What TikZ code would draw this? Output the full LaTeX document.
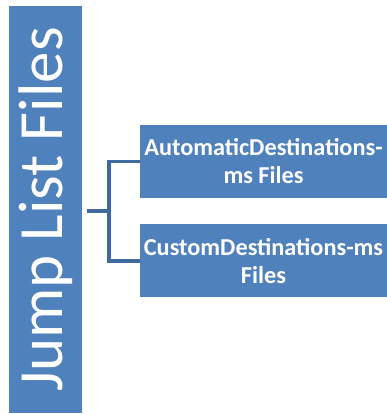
\documentclass[tikz,border=0pt]{standalone}
\usepackage{fontspec}
\setmainfont{Carlito}
\usepackage{graphicx}
\usepackage{tikz}
\usetikzlibrary{positioning}
\usetikzlibrary{calc}
\definecolor{boxblue}{HTML}{4F81BD}
\definecolor{linkblue}{HTML}{3F6A9E}

\begin{document}
\begin{tikzpicture}[x=1pt, y=-1pt,
        		mainbox/.style={fill=boxblue, draw=none, inner sep=0pt, text=white},
        		subbox/.style={fill=boxblue, draw=none, inner sep=0pt, minimum width=247pt, minimum height=73pt, text=white, font=\bfseries\fontsize{24.3}{28}\selectfont},
        		branch/.style={draw=linkblue, line width=3.4pt},
        		every text node part/.style={align=center}]
        		\useasboundingbox (0, 0) rectangle (387, 414);
        		\node[mainbox, minimum width=73pt, minimum height=407pt, font=\fontsize{63}{63}\selectfont](files) at (45.5, 209.5) {\rotatebox{90}{Jump List Files}};
        		
        		\node[subbox](autodest) at (263.5, 161.5) {AutomaticDestinations-\\ms Files};
        		\node[subbox, below=26pt of autodest](customdest) {CustomDestinations-ms\\Files};
        		
        		\coordinate (fork) at (109, 211);
        		\draw[branch] ([xshift=5pt]files.east |- fork) -- (fork);
        		\draw[branch] (autodest.west) -| (fork) |- (customdest.west);
        	\end{tikzpicture}
\end{document}
